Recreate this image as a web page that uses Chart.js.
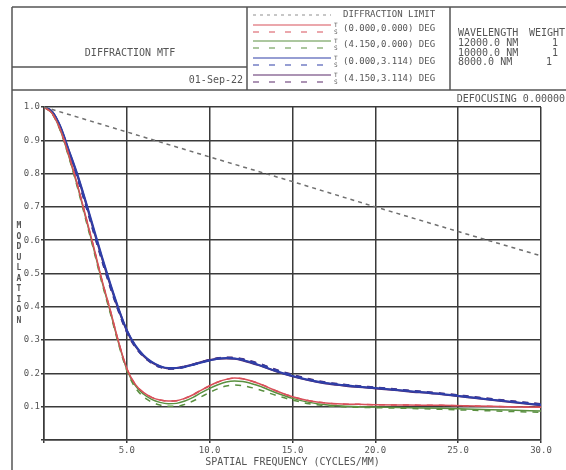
<!DOCTYPE html>
<html lang="en">
<head>
<meta charset="UTF-8">
<title>Diffraction MTF</title>
<script src="https://cdn.jsdelivr.net/npm/chart.js"></script>
<style>
  html, body { margin: 0; padding: 0; background: #fff; }
  #wrap { width: 566px; height: 470px; }
</style>
</head>
<body>
<div id="wrap"><canvas id="mtf" width="566" height="470"></canvas></div>
<script>
// spatial frequency samples (cycles/mm)
const freq = [0, 0.5, 1, 1.5, 2, 2.5, 3, 3.5, 4, 4.5, 5, 5.5, 6, 6.5, 7, 7.5, 8, 8.5, 9, 9.5,
              10, 10.5, 11, 11.5, 12, 13, 14, 15, 16, 17, 18, 19, 20, 22, 24, 26, 28, 30];

const diffFreq = [0, 5, 10, 15, 20, 25, 30];
const diffLimit = [1.0, 0.925, 0.85, 0.776, 0.70, 0.626, 0.553];

// (0.000,0.000) deg - T and S are the same on axis
const field1T = [1.000, 0.980, 0.930, 0.855, 0.770, 0.675, 0.580, 0.480, 0.390, 0.295, 0.215, 0.168, 0.143, 0.128, 0.120, 0.117, 0.118, 0.125, 0.136, 0.150,
                 0.163, 0.174, 0.182, 0.186, 0.184, 0.169, 0.148, 0.130, 0.118, 0.111, 0.108, 0.107, 0.106, 0.105, 0.104, 0.102, 0.100, 0.098];
const field1S = [1.000, 0.980, 0.930, 0.855, 0.770, 0.675, 0.580, 0.480, 0.390, 0.295, 0.215, 0.168, 0.143, 0.128, 0.120, 0.117, 0.118, 0.125, 0.136, 0.150,
                 0.163, 0.174, 0.182, 0.186, 0.184, 0.169, 0.148, 0.130, 0.118, 0.111, 0.108, 0.107, 0.106, 0.105, 0.104, 0.102, 0.100, 0.098];
// (4.150,0.000) deg
const field2T = [1.000, 0.980, 0.929, 0.852, 0.766, 0.671, 0.575, 0.476, 0.386, 0.292, 0.212, 0.164, 0.138, 0.122, 0.113, 0.109, 0.110, 0.117, 0.128, 0.142,
                 0.155, 0.166, 0.174, 0.177, 0.176, 0.162, 0.142, 0.125, 0.113, 0.106, 0.102, 0.100, 0.099, 0.097, 0.095, 0.092, 0.090, 0.087];
const field2S = [1.000, 0.979, 0.927, 0.849, 0.762, 0.666, 0.570, 0.471, 0.381, 0.288, 0.208, 0.158, 0.130, 0.114, 0.105, 0.101, 0.101, 0.107, 0.117, 0.130,
                 0.143, 0.154, 0.162, 0.165, 0.163, 0.151, 0.134, 0.120, 0.109, 0.103, 0.100, 0.098, 0.097, 0.095, 0.092, 0.089, 0.086, 0.083];
// (0.000,3.114) deg
const field3T = [1.000, 0.985, 0.940, 0.870, 0.800, 0.720, 0.635, 0.550, 0.470, 0.395, 0.330, 0.285, 0.255, 0.235, 0.222, 0.216, 0.216, 0.220, 0.226, 0.233,
                 0.239, 0.244, 0.246, 0.245, 0.240, 0.225, 0.207, 0.192, 0.180, 0.171, 0.165, 0.160, 0.156, 0.147, 0.138, 0.127, 0.116, 0.105];
const field3S = [1.000, 0.984, 0.936, 0.864, 0.792, 0.712, 0.626, 0.542, 0.462, 0.389, 0.326, 0.282, 0.252, 0.232, 0.220, 0.214, 0.215, 0.219, 0.226, 0.233,
                 0.240, 0.245, 0.247, 0.246, 0.242, 0.228, 0.210, 0.195, 0.182, 0.172, 0.166, 0.161, 0.157, 0.148, 0.139, 0.128, 0.117, 0.107];
// (4.150,3.114) deg
const field4T = [1.000, 0.985, 0.938, 0.868, 0.796, 0.716, 0.630, 0.546, 0.466, 0.392, 0.328, 0.283, 0.253, 0.233, 0.221, 0.215, 0.216, 0.221, 0.227, 0.234,
                 0.240, 0.244, 0.245, 0.244, 0.239, 0.224, 0.206, 0.191, 0.179, 0.170, 0.164, 0.159, 0.155, 0.146, 0.137, 0.126, 0.115, 0.104];
const field4S = [1.000, 0.984, 0.935, 0.862, 0.790, 0.709, 0.623, 0.539, 0.459, 0.387, 0.324, 0.280, 0.251, 0.231, 0.219, 0.214, 0.215, 0.220, 0.227, 0.234,
                 0.241, 0.246, 0.248, 0.247, 0.243, 0.229, 0.211, 0.196, 0.183, 0.173, 0.167, 0.162, 0.158, 0.149, 0.140, 0.129, 0.118, 0.108];

const fieldLabels = ['(0.000,0.000) DEG', '(4.150,0.000) DEG', '(0.000,3.114) DEG', '(4.150,3.114) DEG'];
const fieldColors = ['#d8505a', '#5a9040', '#2f3fa8', '#5a2a6a'];
const wavelengths = ['12000.0 NM', '10000.0 NM', '8000.0 NM'];
const weights = ['1', '1', '1'];
const xTicks = [5, 10, 15, 20, 25, 30];

const MONO = '"DejaVu Sans Mono", "Liberation Mono", monospace';
const INK = '#555';

function pts(xs, ys) { return xs.map((x, i) => ({ x: x, y: ys[i] })); }

const tangential = [field1T, field2T, field3T, field4T];
const sagittal = [field1S, field2S, field3S, field4S];
const widths = [1.5, 1.5, 2, 2];

const datasets = [{
  label: 'DIFFRACTION LIMIT', data: pts(diffFreq, diffLimit),
  borderColor: '#707070', borderWidth: 1.5, borderDash: [4, 4], pointRadius: 0, tension: 0
}];
for (let i = 0; i < 4; i++) {
  datasets.push({ label: fieldLabels[i] + ' T', data: pts(freq, tangential[i]),
    borderColor: fieldColors[i], borderWidth: widths[i], pointRadius: 0, cubicInterpolationMode: 'monotone' });
  datasets.push({ label: fieldLabels[i] + ' S', data: pts(freq, sagittal[i]),
    borderColor: fieldColors[i], borderWidth: widths[i], borderDash: [6, 6], pointRadius: 0, cubicInterpolationMode: 'monotone' });
}

// frame, header boxes, legend and axis titles
const framePlugin = {
  id: 'frame',
  afterDraw(chart) {
    const c = chart.ctx;
    c.save();
    c.strokeStyle = INK;
    c.lineWidth = 1.5;
    const line = (x1, y1, x2, y2) => { c.beginPath(); c.moveTo(x1, y1); c.lineTo(x2, y2); c.stroke(); };
    line(12, 7, 566, 7);
    line(12, 90, 566, 90);
    line(12, 7, 12, 470);
    line(12, 67, 247, 67);
    line(247, 7, 247, 90);
    line(450, 7, 450, 90);

    c.fillStyle = INK;
    c.font = '10px ' + MONO;
    c.textBaseline = 'middle';
    c.textAlign = 'center';
    c.fillText('DIFFRACTION MTF', 130, 53);
    c.textAlign = 'right';
    c.fillText('01-Sep-22', 243, 80);

    // legend
    c.textAlign = 'left';
    c.font = '9px ' + MONO;
    c.fillText('DIFFRACTION LIMIT', 343, 15);
    c.strokeStyle = '#909090';
    c.lineWidth = 1.2;
    c.setLineDash([3, 4]);
    line(253, 15, 331, 15);
    const rowY = [25, 41, 58, 75];
    for (let i = 0; i < 4; i++) {
      c.strokeStyle = fieldColors[i];
      c.setLineDash([]);
      line(253, rowY[i], 331, rowY[i]);
      c.setLineDash([6, 10]);
      line(253, rowY[i] + 7, 331, rowY[i] + 7);
      c.setLineDash([]);
      c.fillStyle = INK;
      c.font = '6px ' + MONO;
      c.fillText('T', 334, rowY[i]);
      c.fillText('S', 334, rowY[i] + 7);
      c.font = '9px ' + MONO;
      c.fillText(fieldLabels[i], 343, rowY[i] + 4);
    }

    // wavelength block
    c.fillStyle = INK;
    c.font = '10px ' + MONO;
    c.fillText('WAVELENGTH', 458, 33);
    c.textAlign = 'right';
    c.fillText('WEIGHT', 565, 33);
    const wy = [43, 53, 62];
    for (let i = 0; i < wavelengths.length; i++) {
      c.textAlign = 'left';
      c.fillText(wavelengths[i], 458, wy[i]);
      c.textAlign = 'right';
      c.fillText(weights[i], 558 - (i === 2 ? 6 : 0), wy[i]);
    }
    c.fillText('DEFOCUSING 0.00000', 565, 99);

    // axis titles
    c.textAlign = 'center';
    const area = chart.chartArea;
    c.fillText('SPATIAL FREQUENCY (CYCLES/MM)', (area.left + area.right) / 2, 462);
    const yTitle = 'MODULATION';
    c.font = 'bold 8px ' + MONO;
    for (let i = 0; i < yTitle.length; i++) {
      c.fillText(yTitle[i], 19, 226 + i * 10.5);
    }
    c.restore();
  }
};

new Chart(document.getElementById('mtf'), {
  type: 'line',
  data: { datasets: datasets },
  options: {
    responsive: false,
    animation: false,
    devicePixelRatio: 1,
    layout: { padding: { left: 12, right: 25, top: 107, bottom: 16 } },
    plugins: { legend: { display: false }, tooltip: { enabled: false } },
    scales: {
      x: {
        type: 'linear', min: 0, max: 30,
        afterFit: s => { s.height = 14; },
        afterBuildTicks: s => { s.ticks = [0].concat(xTicks).map(v => ({ value: v })); },
        ticks: {
          font: { family: MONO, size: 9 }, color: INK, padding: 2, maxRotation: 0,
          callback: v => v === 0 ? '' : v.toFixed(1)
        },
        grid: { color: '#3a3a3a', lineWidth: 1.5, tickLength: 3 },
        border: { color: '#3a3a3a', width: 1.5 }
      },
      y: {
        min: 0, max: 1,
        afterFit: s => { s.width = 32; },
        ticks: {
          stepSize: 0.1, font: { family: MONO, size: 9 }, color: INK, padding: 1,
          callback: v => v === 0 ? '' : v.toFixed(1)
        },
        grid: { color: '#3a3a3a', lineWidth: 1.5, tickLength: 3 },
        border: { color: '#3a3a3a', width: 1.5 }
      }
    }
  },
  plugins: [framePlugin]
});
</script>
</body>
</html>
